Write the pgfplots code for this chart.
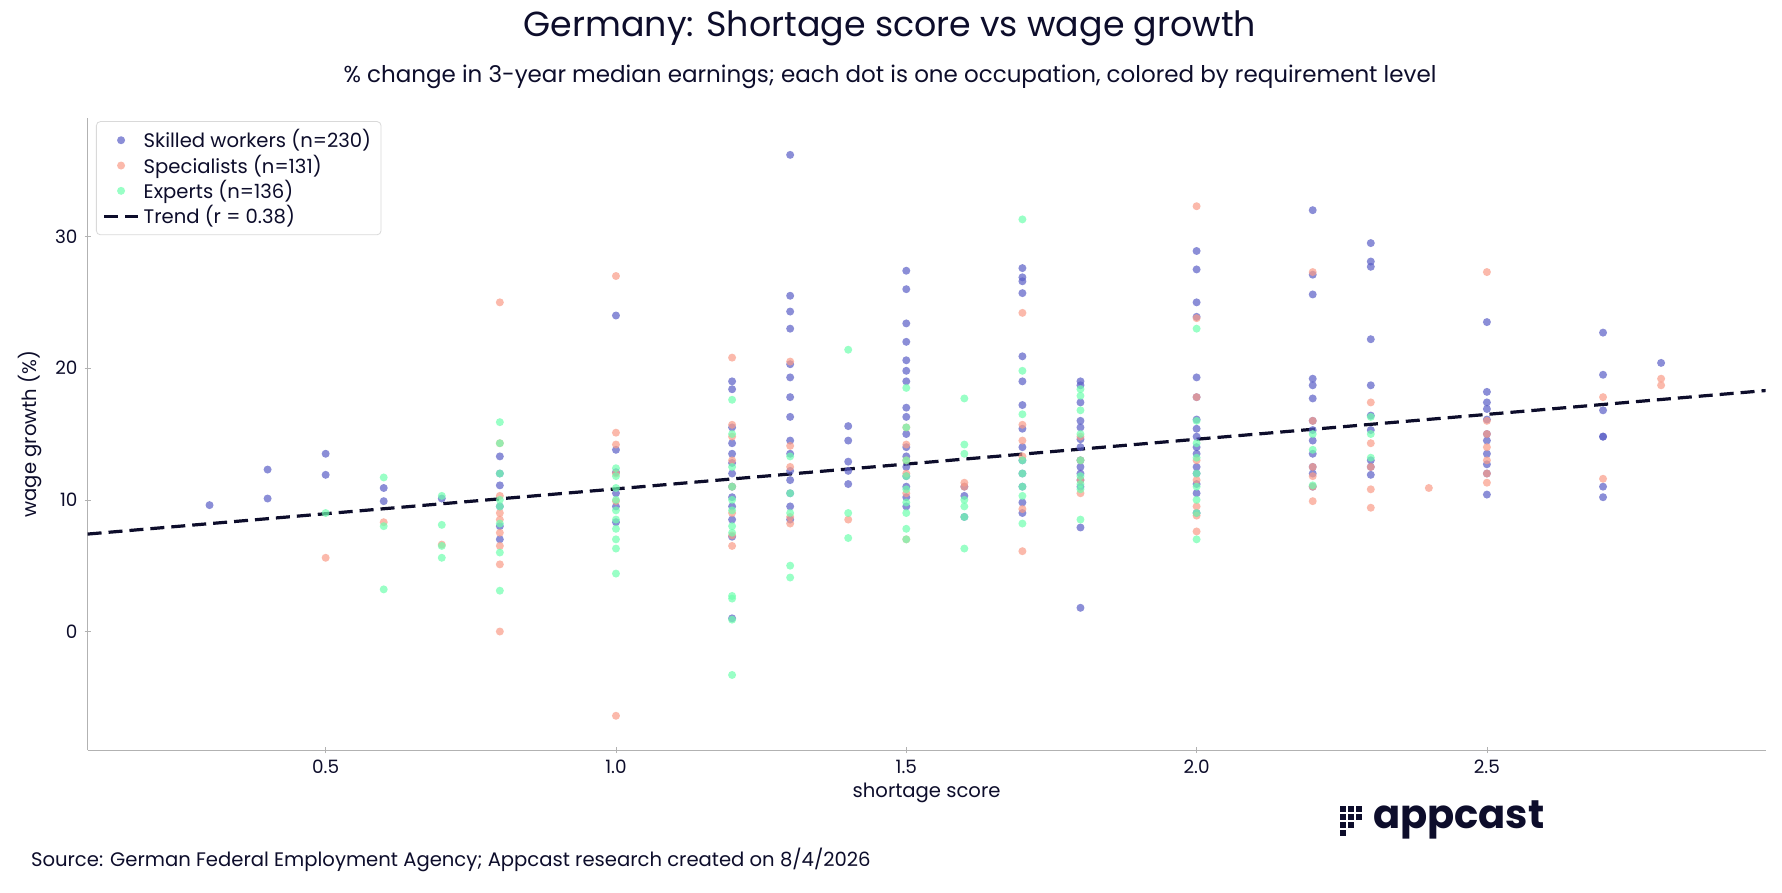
\documentclass[border=0pt]{standalone}
\usepackage{pgfplots}
\pgfplotsset{compat=1.18}
\usepackage{fontspec}
\setmainfont{Poppins}
\definecolor{navy}{HTML}{0D0D2B}
\definecolor{cblue}{HTML}{5B5FC7}
\definecolor{csal}{HTML}{FA9C88}
\definecolor{cmint}{HTML}{6FFFAF}
\begin{document}
\begin{tikzpicture}
\path[fill=white] (0pt,0pt) rectangle (891pt,-446.5pt);
\node[text=navy,font=\fontsize{17.4}{20}\selectfont] at (445pt,-14pt) {Germany: Shortage score vs wage growth};
\node[text=navy,font=\fontsize{11.5}{13}\selectfont] at (445pt,-38.6pt) {\% change in 3-year median earnings; each dot is one occupation, colored by requirement level};
\begin{axis}[at={(43.8pt,-375pt)},anchor=south west,scale only axis,width=839pt,height=316pt,
 xmin=0.09,xmax=2.98,ymin=-9,ymax=39,
 axis lines=left, axis line style={gray!60,-},
 xtick={0.5,1.0,1.5,2.0,2.5}, ytick={0,10,20,30},
 xticklabel style={/pgf/number format/.cd,fixed,fixed zerofill,precision=1},
 /pgf/number format/assume math mode=true,
 tick style={gray!60}, major tick length=3pt,
 ticklabel style={font=\fontsize{9.2}{10}\selectfont,text=navy},
 xlabel={shortage score}, ylabel={wage growth (\%)},
 label style={font=\fontsize{9.8}{11}\selectfont,text=navy},
 xlabel style={yshift=2pt},
 legend style={font=\fontsize{9.8}{11}\selectfont,text=navy,draw=gray!30,rounded corners=2pt,row sep=-2pt,at={(0.005,0.995)},anchor=north west},
 legend cell align=left,
 every axis plot/.append style={only marks,mark=*,mark size=2pt,opacity=0.7,mark options={draw opacity=0}},
]
\addplot[cblue,fill=cblue] coordinates {
(0.3,9.6)(0.4,12.3)(0.4,10.1)(0.5,13.5)(0.5,11.9)(0.6,10.9)(0.6,9.9)(0.7,10.1)
(0.8,13.3)(0.8,12.0)(0.8,11.1)(0.8,9.5)(0.8,8.0)(0.8,7.0)
(1.0,24.0)(1.0,13.8)(1.0,12.1)(1.0,10.5)(1.0,9.5)(1.0,8.3)
(1.2,19.0)(1.2,18.4)(1.2,15.5)(1.2,14.3)(1.2,13.5)(1.2,12.8)(1.2,12.0)(1.2,11.0)(1.2,10.2)(1.2,9.5)(1.2,8.5)(1.2,7.2)(1.2,1.0)
(1.3,36.2)(1.3,25.5)(1.3,24.3)(1.3,23.0)(1.3,20.3)(1.3,19.3)(1.3,17.8)(1.3,16.3)(1.3,14.5)(1.3,13.5)(1.3,12.2)(1.3,11.5)(1.3,10.5)(1.3,9.5)(1.3,8.5)
(1.4,15.6)(1.4,14.5)(1.4,12.9)(1.4,12.2)(1.4,11.2)
(1.5,27.4)(1.5,26.0)(1.5,23.4)(1.5,22.0)(1.5,20.6)(1.5,19.8)(1.5,19.0)(1.5,17.0)(1.5,16.3)(1.5,15.0)(1.5,14.0)(1.5,13.3)(1.5,12.5)(1.5,11.8)(1.5,11.0)(1.5,10.2)(1.5,9.5)
(1.6,10.3)(1.6,8.7)(1.6,11.0)
(1.7,27.6)(1.7,26.9)(1.7,26.6)(1.7,25.7)(1.7,20.9)(1.7,19.0)(1.7,17.2)(1.7,15.4)(1.7,14.0)(1.7,13.0)(1.7,12.0)(1.7,11.0)(1.7,9.8)(1.7,9.0)
(1.8,19.0)(1.8,18.7)(1.8,17.4)(1.8,16.0)(1.8,15.5)(1.8,14.6)(1.8,14.0)(1.8,13.0)(1.8,12.5)(1.8,12.0)(1.8,11.5)(1.8,11.0)(1.8,7.9)(1.8,1.8)
(2.0,28.9)(2.0,27.5)(2.0,25.0)(2.0,23.9)(2.0,19.3)(2.0,17.8)(2.0,16.1)(2.0,15.4)(2.0,14.8)(2.0,14.0)(2.0,13.5)(2.0,12.5)(2.0,12.0)(2.0,11.2)(2.0,10.5)(2.0,9.0)
(2.2,32.0)(2.2,27.1)(2.2,25.6)(2.2,19.2)(2.2,18.7)(2.2,17.7)(2.2,16.0)(2.2,15.3)(2.2,14.5)(2.2,13.5)(2.2,12.5)(2.2,12.0)(2.2,11.0)
(2.3,29.5)(2.3,28.1)(2.3,27.7)(2.3,22.2)(2.3,18.7)(2.3,16.4)(2.3,15.3)(2.3,13.0)(2.3,12.5)(2.3,11.9)
(2.5,23.5)(2.5,18.2)(2.5,17.4)(2.5,16.9)(2.5,16.1)(2.5,15.0)(2.5,14.5)(2.5,13.5)(2.5,12.7)(2.5,12.0)(2.5,10.4)
(2.7,22.7)(2.7,19.5)(2.7,16.8)(2.7,14.8)(2.7,14.8)(2.7,11.0)(2.7,10.2)(2.8,20.4)
};
\addlegendentry{Skilled workers (n=230)}
\addplot[csal,fill=csal] coordinates {
(0.5,5.6)(0.6,8.3)(0.7,6.6)
(0.8,25.0)(0.8,14.3)(0.8,10.3)(0.8,9.0)(0.8,8.5)(0.8,7.5)(0.8,6.5)(0.8,5.1)(0.8,0.0)
(1.0,27.0)(1.0,15.1)(1.0,14.2)(1.0,12.0)(1.0,9.9)(1.0,-6.4)
(1.2,20.8)(1.2,15.7)(1.2,14.8)(1.2,13.0)(1.2,11.0)(1.2,9.0)(1.2,7.3)(1.2,6.5)
(1.3,20.5)(1.3,14.1)(1.3,12.5)(1.3,8.7)(1.3,8.2)(1.4,8.5)
(1.5,15.5)(1.5,14.2)(1.5,13.0)(1.5,12.0)(1.5,10.5)(1.5,7.0)
(1.6,11.3)(1.6,11.0)
(1.7,24.2)(1.7,15.7)(1.7,14.5)(1.7,13.3)(1.7,9.3)(1.7,6.1)
(1.8,14.8)(1.8,13.0)(1.8,11.5)(1.8,10.5)
(2.0,32.3)(2.0,23.8)(2.0,17.8)(2.0,13.0)(2.0,11.5)(2.0,9.5)(2.0,8.8)(2.0,7.6)
(2.2,27.3)(2.2,16.0)(2.2,12.5)(2.2,11.8)(2.2,11.0)(2.2,9.9)
(2.3,17.4)(2.3,14.3)(2.3,12.5)(2.3,10.8)(2.3,9.4)(2.4,10.9)
(2.5,27.3)(2.5,16.0)(2.5,15.0)(2.5,14.0)(2.5,13.0)(2.5,12.0)(2.5,11.3)
(2.7,17.8)(2.7,11.6)(2.8,19.2)(2.8,18.7)
};
\addlegendentry{Specialists (n=131)}
\addplot[cmint,fill=cmint] coordinates {
(0.5,9.0)(0.6,11.7)(0.6,8.0)(0.6,3.2)(0.7,10.3)(0.7,8.1)(0.7,6.5)(0.7,5.6)
(0.8,15.9)(0.8,14.3)(0.8,12.0)(0.8,10.0)(0.8,9.5)(0.8,8.2)(0.8,6.0)(0.8,3.1)
(1.0,12.4)(1.0,11.8)(1.0,10.9)(1.0,10.0)(1.0,9.2)(1.0,8.5)(1.0,7.8)(1.0,7.0)(1.0,6.3)(1.0,4.4)
(1.2,17.6)(1.2,15.0)(1.2,12.5)(1.2,11.0)(1.2,10.0)(1.2,9.2)(1.2,8.0)(1.2,7.5)(1.2,2.7)(1.2,2.5)(1.2,0.9)(1.2,-3.3)
(1.3,13.3)(1.3,10.5)(1.3,9.0)(1.3,5.0)(1.3,4.1)
(1.4,21.4)(1.4,9.0)(1.4,7.1)
(1.5,18.5)(1.5,15.5)(1.5,13.0)(1.5,11.8)(1.5,10.8)(1.5,9.8)(1.5,9.0)(1.5,7.8)(1.5,7.0)
(1.6,17.7)(1.6,14.2)(1.6,13.5)(1.6,10.0)(1.6,9.5)(1.6,8.7)(1.6,6.3)
(1.7,31.3)(1.7,19.8)(1.7,16.5)(1.7,13.0)(1.7,12.0)(1.7,11.0)(1.7,10.3)(1.7,8.2)
(1.8,18.4)(1.8,17.9)(1.8,16.8)(1.8,15.0)(1.8,13.0)(1.8,11.8)(1.8,11.2)(1.8,10.8)(1.8,8.5)
(2.0,23.0)(2.0,16.0)(2.0,14.3)(2.0,13.2)(2.0,12.0)(2.0,11.0)(2.0,10.0)(2.0,9.0)(2.0,7.0)
(2.2,15.0)(2.2,13.8)(2.2,11.1)(2.3,16.3)(2.3,15.0)(2.3,13.2)
};
\addlegendentry{Experts (n=136)}
\addplot[navy,sharp plot,no marks,opacity=1,line width=1.6pt,dash pattern=on 7pt off 3.5pt] coordinates {(0.09,7.4)(2.98,18.3)};
\addlegendentry{Trend (r = 0.38)}
\end{axis}
\node[text=navy,anchor=west,font=\fontsize{9.8}{11}\selectfont] at (12pt,-430pt) {Source: German Federal Employment Agency; Appcast research created on 8/4/2026};
\foreach \i/\j in {0/0,1/0,2/0,0/1,1/1,2/1,0/2,1/2,0/3}
  \fill[navy] (670pt+\i*4pt,-403pt-\j*4pt) rectangle ++(3.2pt,-3.2pt);
\node[text=navy,anchor=west,font=\fontsize{20}{22}\selectfont\bfseries] at (683pt,-410pt) {appcast};
\end{tikzpicture}
\end{document}
